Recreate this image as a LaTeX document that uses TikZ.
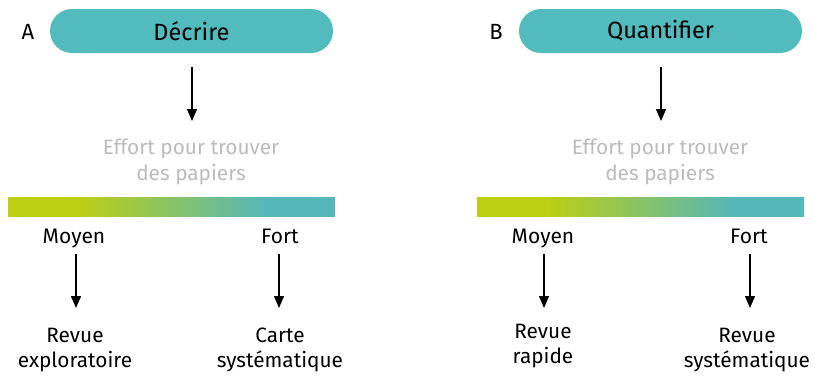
\documentclass[tikz,border=0pt]{standalone}
\usepackage{fontspec}
\setmainfont{Fira Sans}
\usetikzlibrary{arrows.meta}

\definecolor{pillteal}{HTML}{52BBBD}
\definecolor{limeend}{HTML}{BDCF12}
\definecolor{tealend}{HTML}{55B7BA}
\definecolor{softgray}{HTML}{BBBBBB}

% lime-to-teal effort scale (path is mapped onto 25bp..75bp)
\pgfdeclarehorizontalshading{effortscale}{100bp}{%
  color(0bp)=(limeend); color(35.5bp)=(limeend);
  color(64.5bp)=(tealend); color(100bp)=(tealend)}

\tikzset{
  pill/.style={fill=pillteal, rounded corners=22pt, minimum width=283pt,
    minimum height=44pt, inner sep=0pt, font=\fontsize{23.5}{27}\selectfont},
  panel/.style={font=\fontsize{22}{26}\selectfont, inner sep=0pt},
  effort/.style={font=\fontsize{20.8}{26}\selectfont, text=softgray,
    align=center, inner sep=0pt, anchor=base},
  level/.style={font=\fontsize{21}{25}\selectfont, inner sep=0pt, anchor=base},
  result/.style={font=\fontsize{20.8}{25}\selectfont, align=center,
    inner sep=0pt, anchor=base},
  flow/.style={line width=1.4pt, -{Triangle[length=12pt,width=10pt]}},
  scalebar/.style={shading=effortscale, draw=none}
}

\begin{document}
\begin{tikzpicture}[x=1pt, y=-1pt]
  \useasboundingbox (0,0) rectangle (815,376);

  % panel A
  \node[panel] (la) at (28,32) {A};
  \node[pill] (pa) at (191.5,31) {Décrire};
  \coordinate (pat) at (192,67);
  \coordinate (pab) at (192,121);
  \draw[flow] (pat) -- (pab);
  \node[effort] (ea) at (191,180) {Effort pour trouver\\des papiers};
  \path[scalebar] (8,197) rectangle (335,216);
  \node[level] (ma) at (74,243) {Moyen};
  \node[level] (fa) at (280,243) {Fort};
  \coordinate (mat) at (76,254);
  \coordinate (mab) at (76,308);
  \coordinate (fat) at (279,254);
  \coordinate (fab) at (279,308);
  \draw[flow] (mat) -- (mab);
  \draw[flow] (fat) -- (fab);
  \node[result] (ra) at (75,367) {Revue\\exploratoire};
  \node[result] (ca) at (280,367) {Carte\\systématique};

  % panel B
  \node[panel] (lb) at (496,32) {B};
  \node[pill] (pb) at (660.5,31) {Quantifier};
  \coordinate (pbt) at (661,67);
  \coordinate (pbb) at (661,121);
  \draw[flow] (pbt) -- (pbb);
  \node[effort] (eb) at (660,180) {Effort pour trouver\\des papiers};
  \path[scalebar] (477,197) rectangle (804,216);
  \node[level] (mb) at (543,243) {Moyen};
  \node[level] (fb) at (749,243) {Fort};
  \coordinate (mbt) at (544,254);
  \coordinate (mbb) at (544,308);
  \coordinate (fbt) at (750,254);
  \coordinate (fbb) at (750,308);
  \draw[flow] (mbt) -- (mbb);
  \draw[flow] (fbt) -- (fbb);
  \node[result] (rb) at (543,363) {Revue\\rapide};
  \node[result] (sb) at (747,367) {Revue\\systématique};
\end{tikzpicture}
\end{document}
